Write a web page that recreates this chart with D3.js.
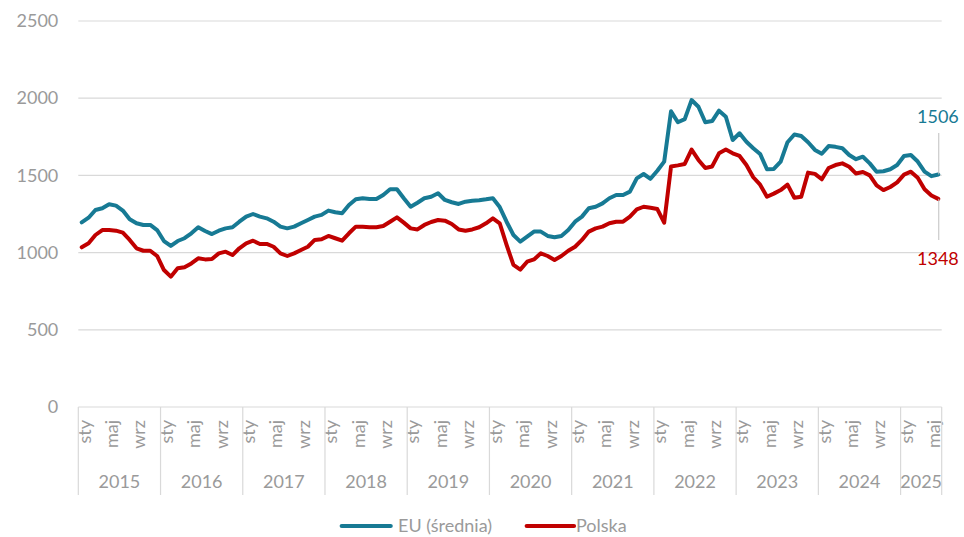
<!DOCTYPE html>
<html>
<head>
<meta charset="utf-8">
<script src="https://cdn.jsdelivr.net/npm/d3@7"></script>
<style>
  html, body { margin: 0; padding: 0; background: #fff; }
  svg text { font-family: Lato, "Open Sans", "Noto Sans", sans-serif; }
</style>
</head>
<body>
<svg id="chart" width="964" height="537"></svg>
<script>
// Month abbreviations (Polish) and years on the category axis
const monthNames = ["sty", "lut", "mar", "kwi", "maj", "cze", "lip", "sie", "wrz", "paź", "lis", "gru"];
const years = [2015, 2016, 2017, 2018, 2019, 2020, 2021, 2022, 2023, 2024, 2025];
const monthsInLastYear = 6;

// Monthly values, January 2015 – June 2025
const euAvg = [
  1196, 1226, 1276, 1287, 1313, 1304, 1272, 1216, 1190, 1179, 1179, 1146,
  1075, 1043, 1075, 1093, 1125, 1164, 1140, 1120, 1142, 1157, 1164, 1200,
  1233, 1250, 1233, 1222, 1200, 1168, 1157, 1168, 1190, 1211, 1233, 1244,
  1272, 1261, 1255, 1308, 1345, 1352, 1347, 1347, 1373, 1410, 1410, 1352,
  1297, 1323, 1352, 1362, 1384, 1341, 1326, 1315, 1330, 1336, 1339, 1345,
  1352, 1295, 1200, 1114, 1071, 1103, 1136, 1136, 1108, 1099, 1108, 1146,
  1200, 1233, 1287, 1297, 1319, 1352, 1373, 1373, 1395, 1481, 1509, 1478,
  1530, 1589, 1915, 1844, 1864, 1988, 1945, 1844, 1852, 1919, 1880, 1729,
  1773, 1718, 1676, 1639, 1540, 1542, 1589, 1715, 1765, 1755, 1715, 1665,
  1640, 1690, 1685, 1676, 1632, 1605, 1621, 1578, 1524, 1527, 1540, 1567,
  1626, 1632, 1590, 1525, 1495, 1506
];
const poland = [
  1034, 1060, 1114, 1146, 1146, 1142, 1129, 1082, 1028, 1012, 1012, 978,
  887, 844, 898, 905, 930, 963, 956, 958, 995, 1006, 984, 1028,
  1060, 1077, 1056, 1056, 1038, 995, 978, 995, 1017, 1038, 1082, 1086,
  1108, 1093, 1077, 1125, 1168, 1168, 1164, 1164, 1172, 1200, 1228, 1194,
  1157, 1150, 1179, 1198, 1211, 1207, 1185, 1150, 1142, 1150, 1164, 1190,
  1222, 1190, 1050, 920, 890, 941, 956, 995, 978, 952, 978, 1012,
  1038, 1082, 1136, 1157, 1168, 1190, 1200, 1200, 1233, 1280, 1297, 1290,
  1282, 1194, 1558, 1565, 1574, 1667, 1600, 1548, 1558, 1643, 1667, 1643,
  1626, 1567, 1488, 1440, 1362, 1382, 1405, 1440, 1355, 1362, 1518, 1510,
  1475, 1548, 1567, 1578, 1556, 1512, 1522, 1500, 1435, 1405, 1425, 1455,
  1505, 1524, 1485, 1410, 1370, 1348
];
const yTicks = [0, 500, 1000, 1500, 2000, 2500];
const labeledMonths = ["sty", "maj", "wrz"];

const series = [
  { name: "EU (średnia)", values: euAvg, color: "#177a94" },
  { name: "Polska", values: poland, color: "#c00000" }
];

const svg = d3.select("#chart");
const plotLeft = 78.3, plotRight = 941.7;
const plotTop = 21, plotBottom = 407;
const axisGray = "#d9d9d9", textGray = "#9a9a9a";
const fontSize = "18px";

// Build the month list (index -> year / month)
const months = [];
years.forEach((yr, yi) => {
  const n = yi === years.length - 1 ? monthsInLastYear : 12;
  for (let m = 0; m < n; m++) months.push({ idx: months.length, year: yr, month: m });
});

const x = d3.scaleBand().domain(months.map(d => d.idx)).range([plotLeft, plotRight]).padding(0);
const y = d3.scaleLinear().domain([0, 2500]).range([plotBottom, plotTop]);
const cx = i => x(i) + x.bandwidth() / 2;

// Horizontal gridlines
svg.append("g").selectAll("line").data(yTicks).join("line")
  .attr("x1", plotLeft).attr("x2", plotRight)
  .attr("y1", d => y(d)).attr("y2", d => y(d))
  .attr("stroke", axisGray).attr("stroke-width", 1.2);

// Value axis labels
const yAxis = d3.axisLeft(y).tickValues(yTicks).tickFormat(d3.format("d")).tickSize(0).tickPadding(20);
const gy = svg.append("g").attr("transform", `translate(${plotLeft},0)`).call(yAxis);
gy.select(".domain").remove();
gy.selectAll("text").attr("fill", textGray).style("font-size", fontSize);

// Month labels, rotated
const monthAxis = d3.axisBottom(x)
  .tickValues(months.filter(d => labeledMonths.includes(monthNames[d.month])).map(d => d.idx))
  .tickFormat(i => monthNames[months[i].month])
  .tickSize(0);
const gx = svg.append("g").attr("transform", `translate(0,${plotBottom})`).call(monthAxis);
gx.select(".domain").remove();
gx.selectAll("text")
  .attr("fill", textGray).style("font-size", fontSize)
  .attr("text-anchor", "end")
  .attr("transform", "translate(2.5,13) rotate(-90)")
  .attr("x", 0).attr("y", 0).attr("dy", "0.35em");

// Year groups: separators and labels
const yearGroups = years.map(yr => {
  const ms = months.filter(d => d.year === yr);
  return { year: yr, x0: x(ms[0].idx), x1: x(ms[ms.length - 1].idx) + x.bandwidth() };
});
const sepX = yearGroups.map(g => g.x0).concat([plotRight]);
svg.append("g").selectAll("line").data(sepX).join("line")
  .attr("x1", d => d).attr("x2", d => d)
  .attr("y1", plotBottom).attr("y2", 495)
  .attr("stroke", axisGray).attr("stroke-width", 1.2);
svg.append("g").selectAll("text").data(yearGroups).join("text")
  .attr("x", d => (d.x0 + d.x1) / 2).attr("y", 488)
  .attr("text-anchor", "middle").attr("fill", textGray).style("font-size", fontSize)
  .text(d => d.year);

// Series lines
const line = d3.line().x((v, i) => cx(i)).y(v => y(v));
svg.append("g").selectAll("path").data(series).join("path")
  .attr("d", d => line(d.values))
  .attr("fill", "none").attr("stroke", d => d.color)
  .attr("stroke-width", 4).attr("stroke-linejoin", "round").attr("stroke-linecap", "round");

// Labels for the latest values with leader lines
const last = months.length - 1;
const endLabels = [
  { s: series[0], leaderTo: 133, textY: 123 },
  { s: series[1], leaderTo: 240, textY: 265 }
];
endLabels.forEach(e => {
  const v = e.s.values[last];
  svg.append("line")
    .attr("x1", cx(last) + 0.5).attr("x2", cx(last) + 0.5)
    .attr("y1", y(v)).attr("y2", e.leaderTo)
    .attr("stroke", "#bfbfbf").attr("stroke-width", 1);
  svg.append("text")
    .attr("x", 917).attr("y", e.textY)
    .attr("fill", e.s.color).style("font-size", fontSize)
    .text(d3.format("d")(v));
});

// Legend
const legendItems = [
  { s: series[0], x0: 341.7, x1: 390.7, tx: 398 },
  { s: series[1], x0: 526.7, x1: 574, tx: 576 }
];
const lg = svg.append("g");
legendItems.forEach(it => {
  lg.append("line")
    .attr("x1", it.x0).attr("x2", it.x1).attr("y1", 526).attr("y2", 526)
    .attr("stroke", it.s.color).attr("stroke-width", 4.2).attr("stroke-linecap", "round");
  lg.append("text")
    .attr("x", it.tx).attr("y", 526).attr("dy", "0.35em")
    .attr("fill", textGray).style("font-size", fontSize)
    .text(it.s.name);
});
</script>
</body>
</html>
